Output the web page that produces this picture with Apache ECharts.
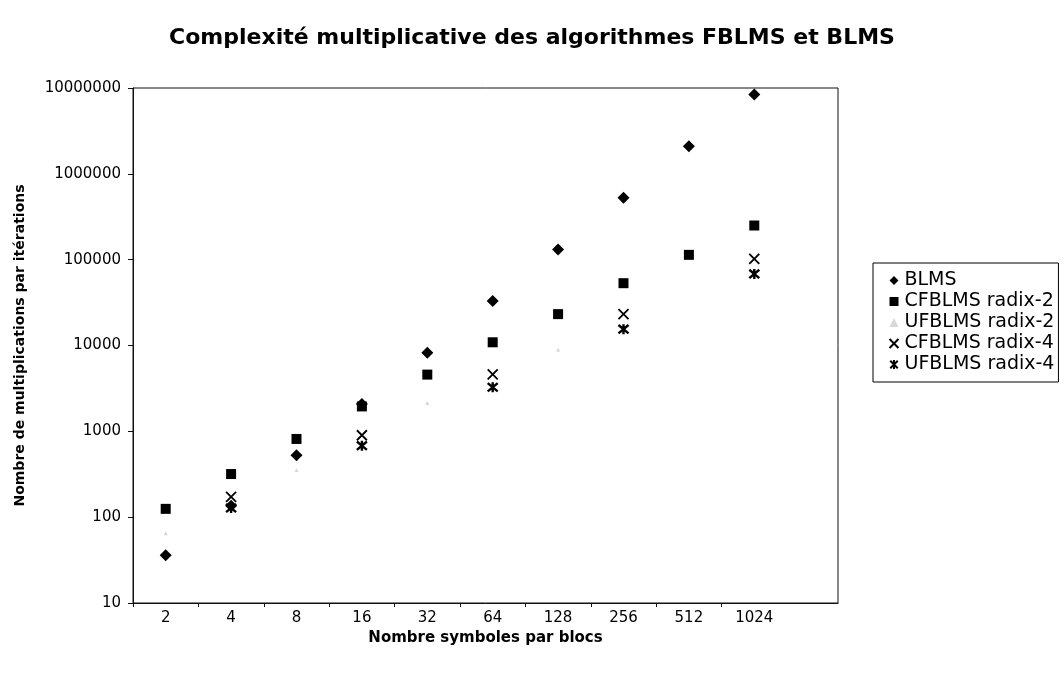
<!DOCTYPE html>
<html>
<head>
<meta charset="utf-8">
<script src="https://cdn.jsdelivr.net/npm/echarts@6/dist/echarts.min.js"></script>
<style>
html,body{margin:0;padding:0;background:#fff;}
#chart{width:1064px;height:673px;}
</style>
</head>
<body>
<div id="chart"></div>
<script>
const blockSizes = ['2','4','8','16','32','64','128','256','512','1024'];
const yTickLabels = ['10','100','1000','10000','100000','1000000','10000000'];
const BLMS = [36, 136, 528, 2080, 8256, 32896, 131328, 524800, 2098176, 8390656];
const CFBLMS_r2 = [125, 318, 815, 1950, 4580, 10900, 23200, 53200, 113800, 250000];
const UFBLMS_r2 = [65, null, 355, null, 2140, null, 8900, null, null, null];
const CFBLMS_r4 = [null, 172, null, 900, null, 4600, null, 23200, null, 102000];
const UFBLMS_r4 = [null, 128, null, 680, null, 3260, null, 15500, null, 68200];

const FONT = "'DejaVu Sans', 'Liberation Sans', Arial, sans-serif";
const toPts = arr => arr.map((v, i) => v == null ? null : [i, v]).filter(p => p);

const X_PATH = 'path://M0,0L10,10M10,0L0,10';
const STAR_PATH = 'path://M0,0L10,10M10,0L0,10M5,-1L5,11';

const chart = echarts.init(document.getElementById('chart'), null, {renderer: 'canvas'});
chart.setOption({
  backgroundColor: '#fff',
  animation: false,
  title: {
    text: 'Complexité multiplicative des algorithmes FBLMS et BLMS',
    left: 'center', top: 22,
    textStyle: {fontFamily: FONT, fontSize: 22, fontWeight: 'bold', color: '#000'}
  },
  legend: {
    orient: 'vertical',
    left: 873, top: 263,
    padding: [8, 4, 8, 14],
    itemGap: 2,
    itemWidth: 9, itemHeight: 9,
    backgroundColor: '#fff',
    borderColor: '#000', borderWidth: 1,
    textStyle: {fontFamily: FONT, fontSize: 19, color: '#000', padding: [0, 0, 0, 1]},
    data: ['BLMS', 'CFBLMS radix-2', 'UFBLMS radix-2', 'CFBLMS radix-4', 'UFBLMS radix-4']
  },
  grid: {
    left: 133, top: 88, right: 226, bottom: 70,
    show: true, borderColor: '#111', borderWidth: 1, backgroundColor: '#fff'
  },
  xAxis: {
    type: 'value',
    min: -0.5, max: 10.28,
    name: 'Nombre symboles par blocs',
    nameLocation: 'middle', nameGap: 25,
    nameTextStyle: {fontFamily: FONT, fontSize: 15, fontWeight: 'bold', color: '#000'},
    axisLine: {show: true, onZero: false, lineStyle: {color: '#111', width: 1}},
    axisTick: {show: true, length: 4, lineStyle: {color: '#111'},
      customValues: blockSizes.map((_, i) => i - 0.5)},
    axisLabel: {fontFamily: FONT, fontSize: 15, color: '#000', margin: 8,
      customValues: blockSizes.map((_, i) => i),
      formatter: v => blockSizes[Math.round(v)] ?? ''},
    splitLine: {show: false}
  },
  yAxis: {
    type: 'log',
    logBase: 10,
    min: 10, max: 10000000,
    name: 'Nombre de multiplications par itérations',
    nameLocation: 'middle', nameGap: 106,
    nameTextStyle: {fontFamily: FONT, fontSize: 14, fontWeight: 'bold', color: '#000'},
    axisLine: {show: true, onZero: false, lineStyle: {color: '#111', width: 1}},
    axisTick: {show: true, length: 5, lineStyle: {color: '#111'}},
    minorTick: {show: false},
    axisLabel: {fontFamily: FONT, fontSize: 15, color: '#000', margin: 12,
      formatter: v => { const s = String(Math.round(v)); return yTickLabels.includes(s) ? s : ''; }},
    splitLine: {show: false}
  },
  series: [
    {name: 'BLMS', type: 'scatter', symbol: 'diamond', symbolSize: [12, 12],
      itemStyle: {color: '#000', opacity: 1}, data: toPts(BLMS)},
    {name: 'CFBLMS radix-2', type: 'scatter', symbol: 'rect', symbolSize: 10,
      itemStyle: {color: '#000', opacity: 1}, data: toPts(CFBLMS_r2)},
    {name: 'UFBLMS radix-2', type: 'scatter', symbol: 'triangle', symbolSize: 4,
      itemStyle: {color: '#d8d8d8', opacity: 1}, data: toPts(UFBLMS_r2)},
    {name: 'CFBLMS radix-4', type: 'scatter', symbol: X_PATH, symbolSize: 10,
      itemStyle: {color: 'none', borderColor: '#000', borderWidth: 1.8, opacity: 1}, data: toPts(CFBLMS_r4)},
    {name: 'UFBLMS radix-4', type: 'scatter', symbol: STAR_PATH, symbolSize: 10,
      itemStyle: {color: 'none', borderColor: '#000', borderWidth: 2.4, opacity: 1}, data: toPts(UFBLMS_r4)}
  ]
});
</script>
</body>
</html>
